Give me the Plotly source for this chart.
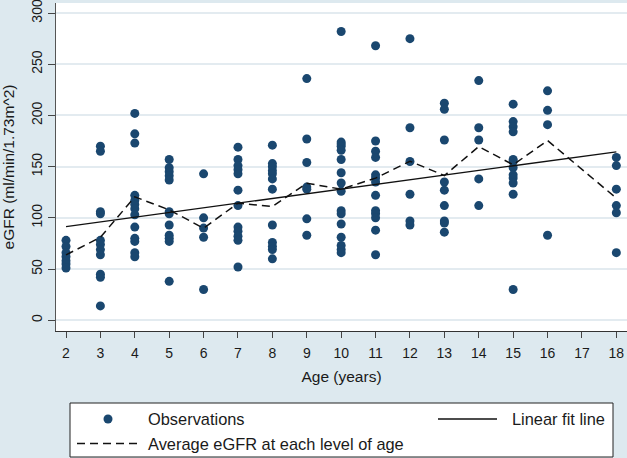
import plotly.graph_objects as go

# Observations of eGFR by age (years)
age2 = [78, 72, 66, 62, 58, 55, 51]
age3 = [170, 165, 106, 104, 78, 74, 69, 64, 45, 42, 14]
age4 = [202, 182, 173, 122, 117, 113, 109, 103, 91, 80, 77, 66, 62]
age5 = [157, 149, 145, 141, 137, 106, 104, 93, 83, 80, 77, 38]
age6 = [143, 100, 90, 81, 30]
age7 = [169, 157, 151, 147, 143, 127, 112, 91, 87, 82, 78, 52]
age8 = [171, 153, 150, 146, 143, 138, 128, 93, 76, 72, 69, 60]
age9 = [236, 177, 154, 130, 128, 99, 83]
age10 = [282, 174, 172, 170, 166, 157, 144, 134, 126, 107, 104, 94, 81, 73, 69, 66]
age11 = [268, 175, 165, 159, 142, 139, 135, 122, 107, 104, 100, 88, 64]
age12 = [275, 188, 155, 123, 97, 93]
age13 = [212, 206, 176, 135, 127, 112, 97, 95, 86]
age14 = [234, 188, 176, 138, 112]
age15 = [211, 194, 189, 184, 157, 155, 149, 142, 139, 134, 123, 30]
age16 = [224, 205, 191, 83]
age18 = [159, 151, 128, 112, 105, 66]

obs_ages = [2, 3, 4, 5, 6, 7, 8, 9, 10, 11, 12, 13, 14, 15, 16, 18]
obs_groups = [age2, age3, age4, age5, age6, age7, age8, age9, age10,
              age11, age12, age13, age14, age15, age16, age18]

# Average eGFR at each level of age
mean_ages = [2, 3, 4, 5, 6, 7, 8, 9, 10, 11, 12, 13, 14, 15, 16, 18]
mean_egfr = [63.8, 81, 120.5, 107.8, 89.9, 114.3, 111, 133.8, 128, 138.8,
             155.3, 141.3, 169.6, 151.8, 175.5, 119.2]

# Linear fit
fit_intercept = 82.4
fit_slope = 4.5625
fit_ages = [2, 18]

x_ticks = list(range(2, 19))
y_ticks = [0, 50, 100, 150, 200, 250, 300]

legend_labels = ["Observations", "Linear fit line", "Average eGFR at each level of age"]

obs_x, obs_y = [], []
for a, g in zip(obs_ages, obs_groups):
    obs_x += [a] * len(g)
    obs_y += g

fit_y = [fit_intercept + fit_slope * a for a in fit_ages]

W, H = 627, 458
ML, MR, MT, MB = 56, 0, 3, 127
PW, PH = W - ML - MR, H - MT - MB


def px(x):
    return (x - ML) / PW


def py(y):
    return (H - MB - y) / PH


FONT = "Liberation Sans, Arial, sans-serif"
NAVY = "#1a476f"
INK = "#111111"

fig = go.Figure()
fig.add_trace(go.Scatter(x=obs_x, y=obs_y, mode="markers", name=legend_labels[0],
                         marker=dict(color=NAVY, size=9, line=dict(width=0)),
                         showlegend=False))
fig.add_trace(go.Scatter(x=fit_ages, y=fit_y, mode="lines", name=legend_labels[1],
                         line=dict(color=INK, width=1.3), showlegend=False))
fig.add_trace(go.Scatter(x=mean_ages, y=mean_egfr, mode="lines", name=legend_labels[2],
                         line=dict(color=INK, width=1.5, dash="8px,5px"),
                         showlegend=False))

# Legend box (drawn in the Stata style: two columns)
shapes = [
    dict(type="rect", xref="paper", yref="paper", x0=px(70), x1=px(613),
         y0=py(457), y1=py(403), line=dict(color="#222222", width=1),
         fillcolor="#ffffff", layer="above"),
    dict(type="circle", xref="paper", yref="paper", x0=px(103.5), x1=px(112.5),
         y0=py(423.5), y1=py(414.5), line=dict(width=0), fillcolor=NAVY),
    dict(type="line", xref="paper", yref="paper", x0=px(438), x1=px(497),
         y0=py(419), y1=py(419), line=dict(color=INK, width=1.3)),
    dict(type="line", xref="paper", yref="paper", x0=px(77), x1=px(138),
         y0=py(443.5), y1=py(443.5), line=dict(color=INK, width=1.5, dash="8px,5px")),
]
annotations = [
    dict(text=legend_labels[0], xref="paper", yref="paper", x=px(146), y=py(419),
         xanchor="left", yanchor="middle", showarrow=False),
    dict(text=legend_labels[1], xref="paper", yref="paper", x=px(510), y=py(419),
         xanchor="left", yanchor="middle", showarrow=False),
    dict(text=legend_labels[2], xref="paper", yref="paper", x=px(146), y=py(443.5),
         xanchor="left", yanchor="middle", showarrow=False),
]

fig.update_layout(
    width=W, height=H,
    margin=dict(l=ML, r=MR, t=MT, b=MB, autoexpand=False),
    paper_bgcolor="#dde9ef", plot_bgcolor="#ffffff",
    font=dict(family=FONT, size=14, color="#1a1a1a"),
    showlegend=False,
    shapes=shapes,
    annotations=[dict(a, font=dict(family=FONT, size=16.4, color="#1a1a1a")) for a in annotations],
    xaxis=dict(range=[1.709, 18.31], tickvals=x_ticks, showgrid=False, zeroline=False,
               showline=True, linecolor="#333333", linewidth=1.2,
               ticks="outside", ticklen=6, tickcolor="#444444",
               tickfont=dict(size=14), automargin=False, ticklabelstandoff=3,
               ticklabeloverflow="allow",
               title=dict(text="Age (years)", standoff=11, font=dict(size=15.5))),
    yaxis=dict(range=[-10.5, 309.8], tickvals=y_ticks, tickangle=-90,
               showgrid=True, gridcolor="#e3ebf0", gridwidth=1.5, zeroline=False,
               showline=True, linecolor="#555555", linewidth=1.2,
               ticks="outside", ticklen=7, tickcolor="#444444",
               tickfont=dict(size=14), automargin=False, ticklabeloverflow="allow",
               title=dict(text="eGFR (ml/min/1.73m^2)", standoff=12, font=dict(size=15.5))),
)

fig.write_html("out.html", config={"displayModeBar": False},
               post_script="document.body.style.margin='0';")
